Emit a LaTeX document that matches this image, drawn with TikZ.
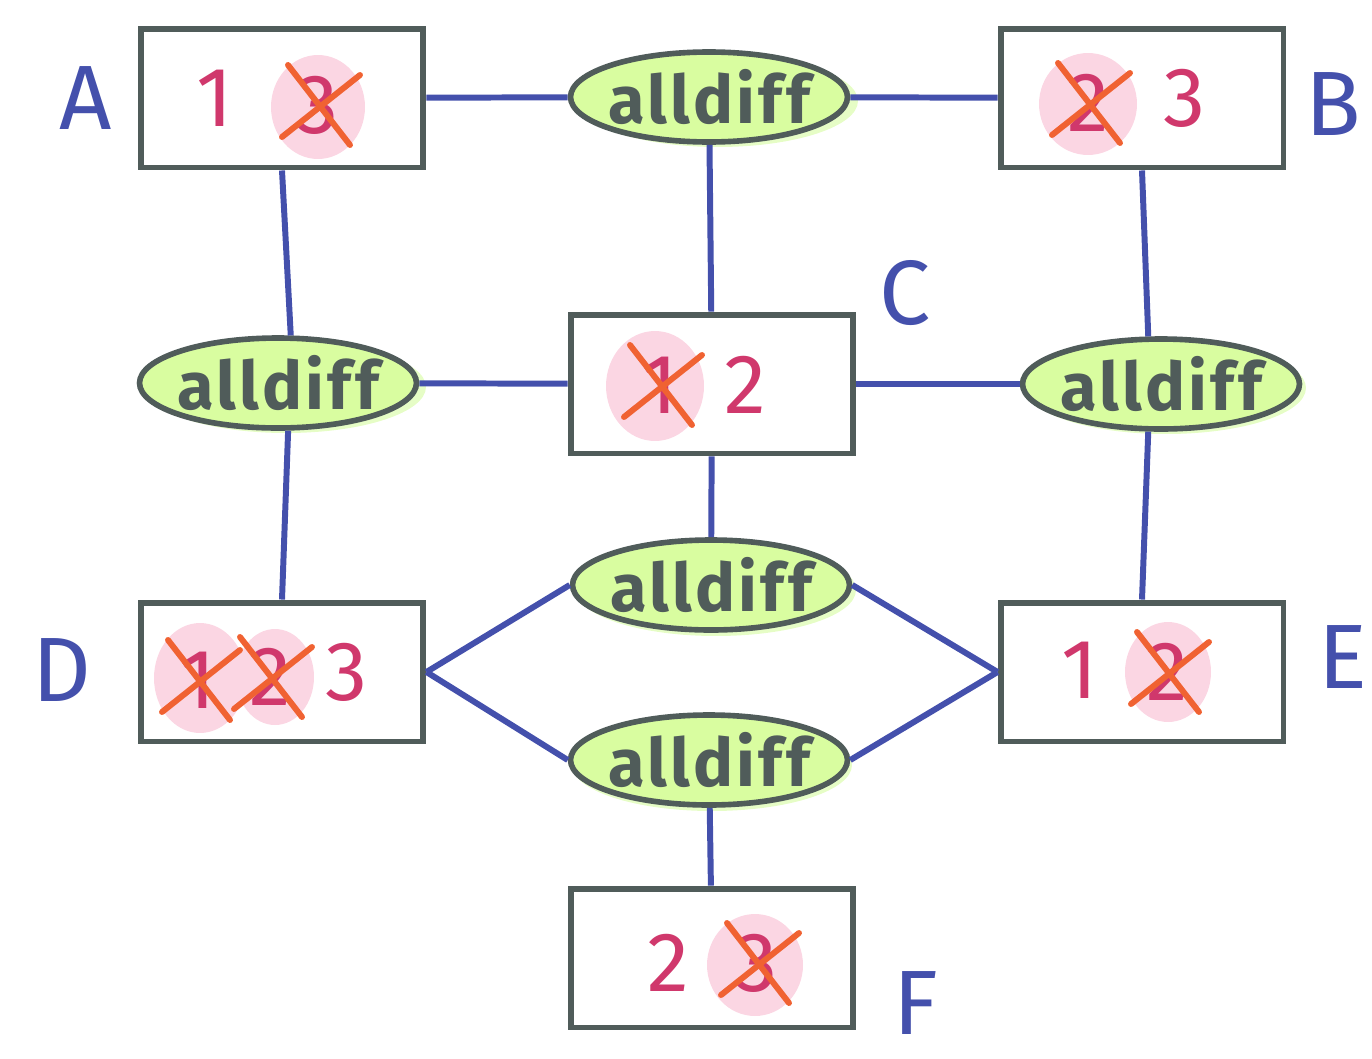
\documentclass[tikz,border=0pt]{standalone}
\usepackage{fontspec}
\setmainfont{Fira Sans}
\usetikzlibrary{shapes.geometric}
\definecolor{boxgray}{HTML}{505C5A}
\definecolor{linkblue}{HTML}{4450AC}
\definecolor{numred}{HTML}{D0386C}
\definecolor{pinkbg}{HTML}{FBD6E3}
\definecolor{crossor}{HTML}{F06232}
\definecolor{lime}{HTML}{D9FDA0}
\definecolor{limeglow}{HTML}{E6FDC6}
\begin{document}
\begin{tikzpicture}[x=0.02cm,y=-0.02cm,
  varbox/.style={draw=boxgray,line width=3.4pt,minimum width=5.66cm,minimum height=2.78cm,inner sep=0pt},
  adiff/.style={ellipse,draw=boxgray,line width=3.2pt,fill=lime,minimum width=5.54cm,minimum height=1.8cm,inner ysep=0pt,inner xsep=-0.22cm,text=boxgray,font=\bfseries\fontsize{38}{38}\selectfont\addfontfeature{LetterSpace=5}},
  glow/.style={fill=limeglow},
  link/.style={draw=linkblue,line width=3.4pt},
  vlabel/.style={text=linkblue,font=\fontsize{52}{52}\selectfont,inner sep=0pt},
  num/.style={text=numred,font=\fontsize{48}{48}\selectfont,inner sep=0pt},
  blob/.style={fill=pinkbg},
  xmark/.style={draw=crossor,line width=3.4pt,line cap=round},
]
\useasboundingbox (0,0) rectangle (1372,1058);
% glow behind ellipses
\fill[glow] (718,101) ellipse [x radius=2.8cm,y radius=0.92cm];
\fill[glow] (286,387) ellipse [x radius=2.8cm,y radius=0.92cm];
\fill[glow] (1166,388) ellipse [x radius=2.8cm,y radius=0.92cm];
\fill[glow] (716,590) ellipse [x radius=2.8cm,y radius=0.92cm];
\fill[glow] (712,765) ellipse [x radius=2.8cm,y radius=0.92cm];
% variable boxes
\node[varbox] (A) at (282,98) {};
\node[varbox] (B) at (1142,98) {};
\node[varbox] (C) at (712,384) {};
\node[varbox] (D) at (282,672) {};
\node[varbox] (E) at (1142,672) {};
\node[varbox] (F) at (712,958) {};
% constraints
\node[adiff] (et) at (709,97) {alldiff};
\node[adiff] (el) at (278,383) {alldiff};
\node[adiff] (er) at (1161,384) {alldiff};
\node[adiff] (em) at (711,585) {alldiff};
\node[adiff] (eb) at (709,760) {alldiff};
% connectors
\draw[link] (A) -- (et);
\draw[link] (et) -- (B);
\draw[link] (et) -- (C);
\draw[link] (A.south) -- (el.75);
\draw[link] (el.282) -- (D.north);
\draw[link] (el) -- (C);
\draw[link] (C) -- (er);
\draw[link] (B.south) -- (er.105);
\draw[link] (er.255) -- (E.north);
\draw[link] (C) -- (em);
\draw[link] (em.west) -- (D.east);
\draw[link] (em.east) -- (E.west);
\draw[link] (eb.west) -- (D.east);
\draw[link] (eb.east) -- (E.west);
\draw[link] (eb) -- (F);
% labels
\node[vlabel] (lA) at (86,98) {A};
\node[vlabel] (lB) at (1333,104) {B};
\node[vlabel] (lC) at (905,293) {C};
\node[vlabel] (lD) at (62,670) {D};
\node[vlabel] (lE) at (1343,657) {E};
\node[vlabel] (lF) at (916,1003) {F};
% pink blobs
\fill[blob] (318,107) ellipse [x radius=0.94cm,y radius=1.04cm];
\fill[blob] (1088,104) ellipse [x radius=0.98cm,y radius=1.02cm];
\fill[blob] (655,386) ellipse [x radius=0.98cm,y radius=1.1cm];
\fill[blob] (200,678) ellipse [x radius=0.92cm,y radius=1.1cm];
\fill[blob] (275,677) ellipse [x radius=0.78cm,y radius=0.96cm];
\fill[blob] (1168,672) ellipse [x radius=0.86cm,y radius=1.0cm];
\fill[blob] (755,965) ellipse [x radius=0.96cm,y radius=1.02cm];
% numbers
\node[num] (a1) at (215,98) {1};
\node[num] (a3) at (318,105) {3};
\node[num] (b2) at (1088,103) {2};
\node[num] (b3) at (1185,98) {3};
\node[num] (c1) at (660,385) {1};
\node[num] (c2) at (745,385) {2};
\node[num] (d1) at (198,680) {1};
\node[num] (d2) at (270,677) {2};
\node[num] (d3) at (347,672) {3};
\node[num] (e1) at (1080,670) {1};
\node[num] (e2) at (1167,672) {2};
\node[num] (f2) at (668,963) {2};
\node[num] (f3) at (757,963) {3};
% crosses
\foreach \n in {a3,b2,c1,d1,d2,e2,f3}{
  \draw[xmark] (\n.center) ++(-30,-40) -- ++(62,80);
  \draw[xmark] (\n.center) ++(-36,32) -- ++(78,-62);
}
\end{tikzpicture}
\end{document}
